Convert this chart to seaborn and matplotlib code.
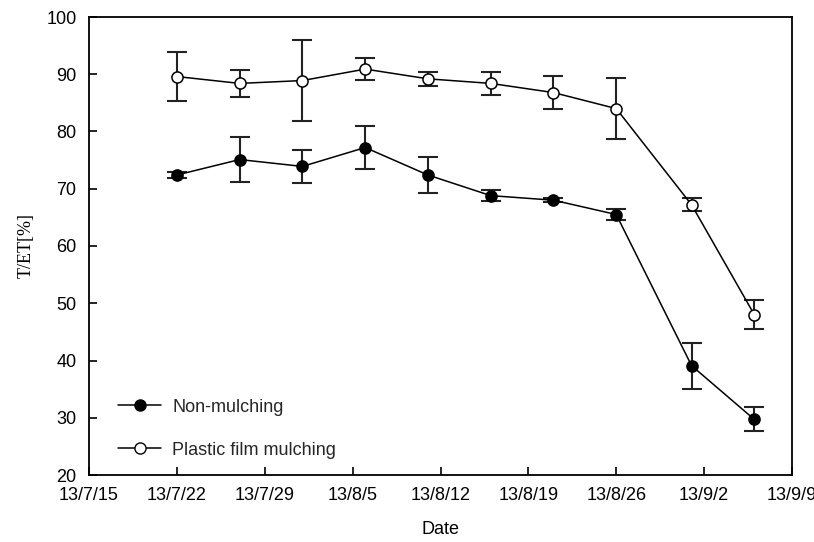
import matplotlib
matplotlib.use("Agg")
import matplotlib.pyplot as plt
import matplotlib.dates as mdates
from matplotlib.lines import Line2D
import numpy as np
import pandas as pd
import seaborn as sns

# Sampling dates and T/ET ratios (%) with error-bar half-widths
dates = ["2013-07-22", "2013-07-27", "2013-08-01", "2013-08-06", "2013-08-11",
         "2013-08-16", "2013-08-21", "2013-08-26", "2013-09-01", "2013-09-06"]
non_mulching = [72.4, 75.1, 73.9, 77.2, 72.4, 68.8, 68.0, 65.5, 39.1, 29.7]
non_mulching_err = [0.6, 3.9, 2.9, 3.8, 3.2, 0.9, 0.4, 0.9, 4.0, 2.1]
plastic_film = [89.6, 88.4, 88.9, 90.9, 89.2, 88.4, 86.8, 84.0, 67.2, 48.0]
plastic_film_err = [4.3, 2.4, 7.0, 1.9, 1.2, 2.0, 2.9, 5.3, 1.1, 2.5]
series_names = ["Non-mulching", "Plastic film mulching"]
tick_dates = ["2013-07-15", "2013-07-22", "2013-07-29", "2013-08-05", "2013-08-12",
              "2013-08-19", "2013-08-26", "2013-09-02", "2013-09-09"]

sns.set_theme(style="white")
plt.rcParams["font.family"] = ["Liberation Sans", "DejaVu Sans"]

dt = pd.to_datetime(dates)
df = pd.DataFrame({
    "Date": np.concatenate([dt, dt]),
    "value": non_mulching + plastic_film,
    "err": non_mulching_err + plastic_film_err,
    "series": [series_names[0]] * len(dates) + [series_names[1]] * len(dates),
})

fig = plt.figure(figsize=(8.14, 5.42), dpi=100)
ax = fig.add_axes([89 / 814, 67 / 542, 703 / 814, 458 / 542])

face = {series_names[0]: "black", series_names[1]: "white"}
for name in series_names:
    sub = df[df["series"] == name]
    ax.errorbar(sub["Date"], sub["value"], yerr=sub["err"], fmt="none",
                ecolor="#222222", elinewidth=1.5, capsize=7, capthick=1.5, zorder=2)

sns.lineplot(data=df, x="Date", y="value", hue="series", style="series",
             palette={n: "black" for n in series_names},
             markers={n: "o" for n in series_names},
             dashes={n: "" for n in series_names},
             linewidth=1.1, markersize=8, ax=ax, legend=False, zorder=3)

# open vs filled markers
for line, name in zip(ax.lines[-2:], series_names):
    line.set_markerfacecolor(face[name])
    line.set_markeredgecolor("black")
    line.set_markeredgewidth(1.1)

ax.set_xlim(pd.Timestamp(tick_dates[0]), pd.Timestamp(tick_dates[-1]))
ax.set_ylim(20, 100)
ax.set_yticks(np.arange(20, 101, 10))
ax.set_xticks(pd.to_datetime(tick_dates))
ax.xaxis.set_major_formatter(
    matplotlib.ticker.FuncFormatter(
        lambda v, p: (lambda d: f"{d.year % 100}/{d.month}/{d.day}")(mdates.num2date(v))))

ax.tick_params(axis="both", direction="in", length=6, width=1.2, labelsize=13,
               colors="black", left=True, bottom=True)
ax.tick_params(axis="y", pad=9)
ax.tick_params(axis="x", pad=9)
for s in ax.spines.values():
    s.set_visible(True)
    s.set_color("black")
    s.set_linewidth(1.3)

ax.set_xlabel("Date", fontsize=13, labelpad=12, color="black")
ax.set_ylabel("T/ET[%]", fontsize=13, family=["Liberation Serif"], labelpad=8,
              color="black")

handles = [Line2D([], [], color="black", lw=1.1, marker="o", markersize=8,
                  markerfacecolor=face[n], markeredgecolor="black")
           for n in series_names]
ax.legend(handles, series_names, loc="lower left", bbox_to_anchor=(0.018, 0.0),
          frameon=False, fontsize=13, handlelength=2.4, handletextpad=0.6,
          labelspacing=1.45)

fig.savefig("out.png", dpi=100, facecolor="white")
